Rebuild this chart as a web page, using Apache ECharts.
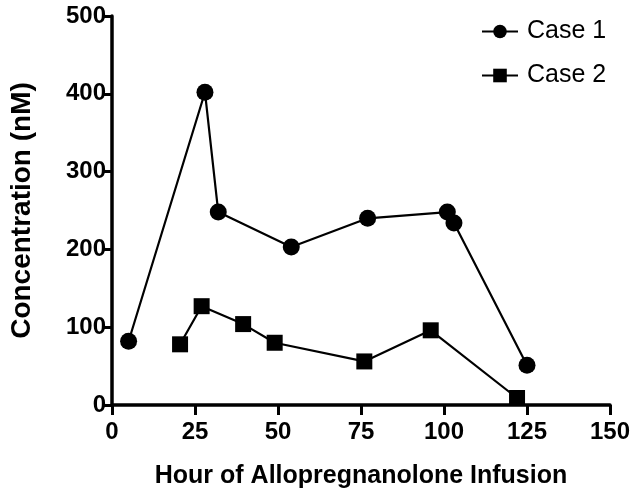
<!DOCTYPE html>
<html><head><meta charset="utf-8">
<script src="https://cdn.jsdelivr.net/npm/echarts@6/dist/echarts.min.js"></script>
<style>html,body{margin:0;padding:0;background:#fff}#c{width:641px;height:499px}</style>
</head><body><div id="c"></div>
<script>
const case1Hours = [5, 28, 32, 54, 77, 101, 103, 125];
const case1Conc  = [82, 402, 248, 203, 240, 248, 234, 51];
const case2Hours = [20.5, 27, 39.5, 49, 76, 96, 122];
const case2Conc  = [78, 127, 104, 80, 56, 96, 9];
const xTicks = [0, 25, 50, 75, 100, 125, 150];
const yTicks = [0, 100, 200, 300, 400, 500];

const pair = (xs, ys) => xs.map((x, i) => [x, ys[i]]);
const font = '"Liberation Sans", Arial, sans-serif';
const axisCommon = {
  axisLine: {show: true, lineStyle: {color: '#000', width: 3.5}},
  axisTick: {show: true, length: 10, lineStyle: {color: '#000', width: 3}},
  splitLine: {show: false},
  axisLabel: {color: '#000', fontSize: 24, fontWeight: 'bold', fontFamily: font},
  nameTextStyle: {color: '#000', fontWeight: 'bold', fontFamily: font}
};
const chart = echarts.init(document.getElementById('c'), null, {renderer: 'canvas'});
chart.setOption({
  animation: false,
  backgroundColor: '#fff',
  grid: {left: 112, right: 31, top: 16, bottom: 94, containLabel: false},
  legend: {
    orient: 'vertical', left: 476, top: 14, itemWidth: 36, itemHeight: 17, itemGap: 19,
    textStyle: {color: '#000', fontSize: 25, fontFamily: font, padding: [0, 0, 0, 4]},
    data: ['Case 1', 'Case 2']
  },
  xAxis: Object.assign({}, axisCommon, {
    type: 'value', min: 0, max: 150, interval: 25,
    axisLabel: Object.assign({}, axisCommon.axisLabel, {margin: 15}),
    name: 'Hour of Allopregnanolone Infusion', nameLocation: 'middle', nameGap: 59,
    nameTextStyle: Object.assign({}, axisCommon.nameTextStyle, {fontSize: 25})
  }),
  yAxis: Object.assign({}, axisCommon, {
    type: 'value', min: 0, max: 500, interval: 100,
    axisLabel: Object.assign({}, axisCommon.axisLabel, {margin: 6, padding: [4, 0, 0, 0]}),
    name: 'Concentration (nM)', nameLocation: 'middle', nameGap: 76,
    nameTextStyle: Object.assign({}, axisCommon.nameTextStyle, {fontSize: 28})
  }),
  series: [
    {name: 'Case 1', type: 'line', data: pair(case1Hours, case1Conc), symbol: 'circle', symbolSize: 17,
     lineStyle: {color: '#000', width: 2.2}, itemStyle: {color: '#000'}},
    {name: 'Case 2', type: 'line', data: pair(case2Hours, case2Conc), symbol: 'rect', symbolSize: 16,
     lineStyle: {color: '#000', width: 2.2}, itemStyle: {color: '#000'}}
  ]
});
</script></body></html>
